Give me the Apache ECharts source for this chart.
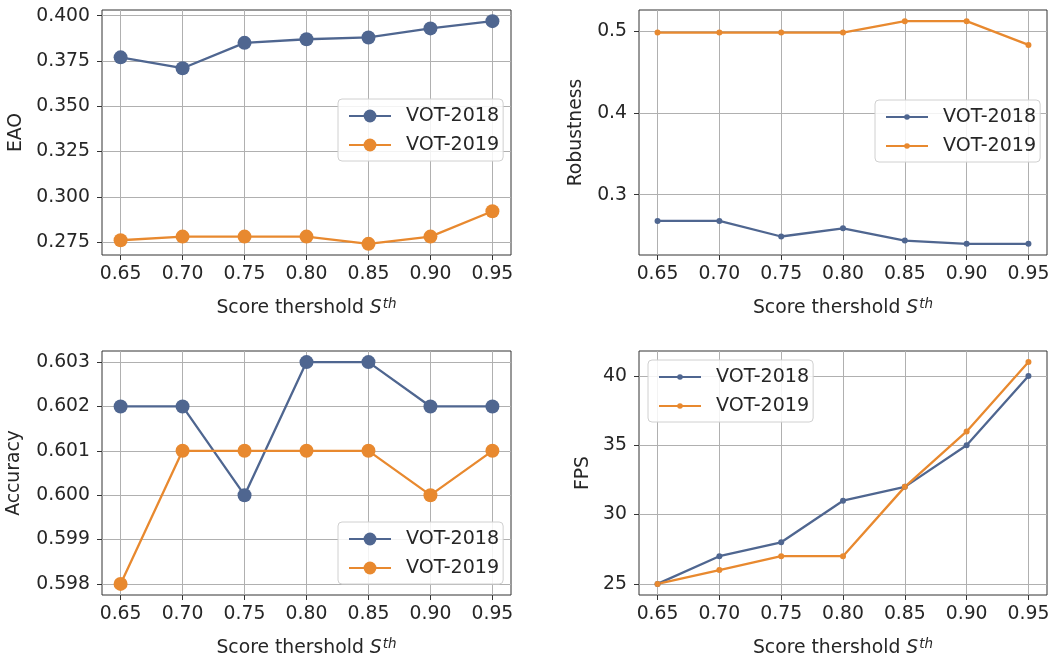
<!DOCTYPE html>
<html>
<head>
<meta charset="utf-8">
<script src="https://cdn.jsdelivr.net/npm/echarts@6/dist/echarts.min.js"></script>
<style>html,body{margin:0;padding:0;background:#fff;}#c{width:1061px;height:662px;}</style>
</head>
<body>
<div id="c"></div>
<script>
// ---- data ----
const thresholds = [0.65, 0.70, 0.75, 0.80, 0.85, 0.90, 0.95];
const seriesNames = ['VOT-2018', 'VOT-2019'];

const eao2018 = [0.377, 0.371, 0.385, 0.387, 0.388, 0.393, 0.397];
const eao2019 = [0.276, 0.278, 0.278, 0.278, 0.274, 0.278, 0.292];

const rob2018 = [0.268, 0.268, 0.249, 0.259, 0.244, 0.240, 0.240];
const rob2019 = [0.498, 0.498, 0.498, 0.498, 0.512, 0.512, 0.483];

const acc2018 = [0.602, 0.602, 0.600, 0.603, 0.603, 0.602, 0.602];
const acc2019 = [0.598, 0.601, 0.601, 0.601, 0.601, 0.600, 0.601];

const fps2018 = [25, 27, 28, 31, 32, 35, 40];
const fps2019 = [25, 26, 27, 27, 32, 36, 41];

const xTicks = [0.65, 0.70, 0.75, 0.80, 0.85, 0.90, 0.95];
const eaoTicks = [0.275, 0.300, 0.325, 0.350, 0.375, 0.400];
const robTicks = [0.3, 0.4, 0.5];
const accTicks = [0.598, 0.599, 0.600, 0.601, 0.602, 0.603];
const fpsTicks = [25, 30, 35, 40];

// ---- styling ----
const BLUE = '#4f6690';
const ORANGE = '#e8892f';
const TXT = '#262626';
const FONT = 'DejaVu Sans';
const FS = 18.8;

const chart = echarts.init(document.getElementById('c'));

const grids = [
  {left: 102, top: 10, width: 409, height: 245},
  {left: 639, top: 10, width: 408, height: 245},
  {left: 102, top: 351, width: 409, height: 244},
  {left: 639, top: 351, width: 408, height: 244}
];

function pairs(vals) { return thresholds.map((x, i) => [x, vals[i]]); }

const xName = '{a|Score thershold }{i|S}{s|th}';
const xNameStyle = {
  color: TXT, fontFamily: FONT, fontSize: FS,
  rich: {
    a: {fontFamily: FONT, fontSize: FS, color: TXT},
    i: {fontFamily: FONT, fontSize: FS, color: TXT, fontStyle: 'italic'},
    s: {fontFamily: FONT, fontSize: 13.5, color: TXT, fontStyle: 'italic', padding: [0, 0, 9, 1]}
  }
};

function xAxis(idx) {
  return {
    type: 'value', gridIndex: idx, min: 0.635, max: 0.965,
    name: xName, nameLocation: 'middle', nameGap: 42, nameTextStyle: xNameStyle,
    axisLine: {show: false},
    axisTick: {show: true, length: 5, lineStyle: {color: '#333', width: 1}, customValues: xTicks},
    axisLabel: {color: TXT, fontFamily: FONT, fontSize: FS, margin: 10, customValues: xTicks,
                formatter: v => v.toFixed(2)},
    splitLine: {show: true, lineStyle: {color: '#b0b0b0', width: 1}}
  };
}

function yAxis(idx, name, gap, min, max, ticks, dec) {
  return {
    type: 'value', gridIndex: idx, min: min, max: max,
    name: name, nameLocation: 'middle', nameGap: gap,
    nameTextStyle: {color: TXT, fontFamily: FONT, fontSize: FS},
    axisLine: {show: false},
    axisTick: {show: true, length: 5, lineStyle: {color: '#333', width: 1}, customValues: ticks},
    axisLabel: {color: TXT, fontFamily: FONT, fontSize: FS, margin: 12, customValues: ticks,
                formatter: v => v.toFixed(dec)},
    splitLine: {show: true, lineStyle: {color: '#b0b0b0', width: 1}}
  };
}

function lineSeries(name, idx, vals, color, big) {
  return {
    type: 'line', name: name, xAxisIndex: idx, yAxisIndex: idx,
    data: pairs(vals), symbol: 'circle', symbolSize: big ? 14 : 6,
    showSymbol: true, animation: false,
    lineStyle: {color: color, width: 2.3},
    itemStyle: {color: color, borderWidth: 0}
  };
}

function legend(idx, left, top, big) {
  return {
    data: seriesNames, orient: 'vertical', left: left, top: top,
    itemWidth: 42, itemHeight: big ? 16 : 7, itemGap: 9,
    padding: [7, 4, 6, 10],
    backgroundColor: 'rgba(255,255,255,0.85)', borderColor: '#d0d0d0', borderWidth: 1, borderRadius: 4,
    textStyle: {color: TXT, fontFamily: FONT, fontSize: FS + 0.3, lineHeight: 20, padding: [0, 0, 0, 10]},
    selectedMode: false
  };
}

const option = {
  backgroundColor: '#fff',
  animation: false,
  grid: grids.map(g => Object.assign({show: true, borderColor: '#333', borderWidth: 1, backgroundColor: 'transparent'}, g)),
  xAxis: [xAxis(0), xAxis(1), xAxis(2), xAxis(3)],
  yAxis: [
    yAxis(0, 'EAO', 76, 0.26785, 0.40315, eaoTicks, 3),
    yAxis(1, 'Robustness', 53, 0.2264, 0.5256, robTicks, 1),
    yAxis(2, 'Accuracy', 78, 0.59775, 0.60325, accTicks, 3),
    yAxis(3, 'FPS', 46, 24.2, 41.8, fpsTicks, 0)
  ],
  legend: [
    legend(0, 338, 99, true),
    legend(1, 875, 100, false),
    legend(2, 338, 522, true),
    legend(3, 648, 360, false)
  ],
  series: [
    lineSeries(seriesNames[0], 0, eao2018, BLUE, true),
    lineSeries(seriesNames[1], 0, eao2019, ORANGE, true),
    lineSeries(seriesNames[0], 1, rob2018, BLUE, false),
    lineSeries(seriesNames[1], 1, rob2019, ORANGE, false),
    lineSeries(seriesNames[0], 2, acc2018, BLUE, true),
    lineSeries(seriesNames[1], 2, acc2019, ORANGE, true),
    lineSeries(seriesNames[0], 3, fps2018, BLUE, false),
    lineSeries(seriesNames[1], 3, fps2019, ORANGE, false)
  ]
};
chart.setOption(option);
</script>
</body>
</html>
